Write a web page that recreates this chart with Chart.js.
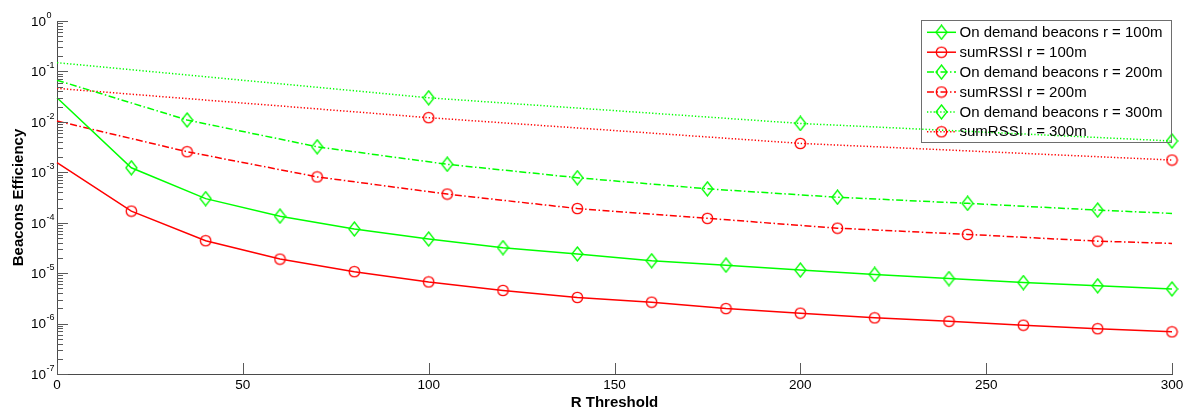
<!DOCTYPE html>
<html>
<head>
<meta charset="utf-8">
<script src="https://cdn.jsdelivr.net/npm/chart.js@4.4.1/dist/chart.umd.min.js"></script>
<style>
  html, body { margin: 0; padding: 0; background: #ffffff; }
  canvas { display: block; }
</style>
</head>
<body>
<canvas id="chart" width="1194" height="411"></canvas>
<script>
// R threshold sample points for each radius
const rThreshold100 = [0, 20, 40, 60, 80, 100, 120, 140, 160, 180, 200, 220, 240, 260, 280, 300];
const rThreshold200 = [0, 35, 70, 105, 140, 175, 210, 245, 280, 300];
const rThreshold300 = [0, 100, 200, 300];

// Beacons efficiency values
const onDemand100 = [3.0e-2, 1.23e-3, 3.0e-4, 1.35e-4, 7.5e-5, 4.75e-5, 3.2e-5, 2.4e-5, 1.76e-5, 1.44e-5, 1.15e-5, 9.4e-6, 7.8e-6, 6.5e-6, 5.6e-6, 4.85e-6];
const sumRssi100  = [1.55e-3, 1.7e-4, 4.4e-5, 1.9e-5, 1.07e-5, 6.7e-6, 4.55e-6, 3.3e-6, 2.66e-6, 1.98e-6, 1.61e-6, 1.3e-6, 1.11e-6, 9.3e-7, 7.9e-7, 6.85e-7];
const onDemand200 = [6.7e-2, 1.09e-2, 3.2e-3, 1.44e-3, 7.8e-4, 4.7e-4, 3.2e-4, 2.42e-4, 1.78e-4, 1.53e-4];
const sumRssi200  = [1.04e-2, 2.56e-3, 8.1e-4, 3.7e-4, 1.91e-4, 1.22e-4, 7.8e-5, 5.87e-5, 4.31e-5, 3.89e-5];
const onDemand300 = [1.49e-1, 3.0e-2, 9.3e-3, 4.17e-3];
const sumRssi300  = [4.62e-2, 1.21e-2, 3.74e-3, 1.75e-3];

// Series names
const seriesNames = [
  'On demand beacons r = 100m',
  'sumRSSI r = 100m',
  'On demand beacons r = 200m',
  'sumRSSI r = 200m',
  'On demand beacons r = 300m',
  'sumRSSI r = 300m'
];

// Axis ticks
const xTickValues = [0, 50, 100, 150, 200, 250, 300];
const yExponents = [-7, -6, -5, -4, -3, -2, -1, 0];

const GREEN = '#00ff00';
const RED = '#ff0000';
const FONT = '"Liberation Sans", Arial, Helvetica, sans-serif';

// Marker glyphs
function makeDiamond() {
  const c = document.createElement('canvas');
  c.width = 13; c.height = 16;
  const g = c.getContext('2d');
  g.strokeStyle = GREEN; g.lineWidth = 1.3;
  g.beginPath();
  g.moveTo(6.5, 1); g.lineTo(12, 8); g.lineTo(6.5, 15); g.lineTo(1, 8); g.closePath();
  g.stroke();
  return c;
}
function makeCircle() {
  const c = document.createElement('canvas');
  c.width = 13; c.height = 13;
  const g = c.getContext('2d');
  g.strokeStyle = RED; g.lineWidth = 1.3;
  g.beginPath();
  g.arc(6.5, 6.5, 5.2, 0, Math.PI * 2);
  g.stroke();
  return c;
}
const diamond = makeDiamond();
const circle = makeCircle();

const SOLID = [];
const DASHDOT = [7, 2.5, 1.5, 2.5];
const DOTTED = [1.3, 2];

function series(label, xs, ys, color, dash, marker, firstMark, lastMark) {
  return {
    label,
    data: xs.map((x, i) => ({ x, y: ys[i] })),
    borderColor: color,
    backgroundColor: color,
    borderWidth: 1.5,
    borderDash: dash,
    pointStyle: marker,
    pointRadius: xs.map((_, i) => (i >= firstMark && i <= lastMark) ? 6 : 0),
    pointHoverRadius: 0,
    tension: 0,
    fill: false,
    clip: false
  };
}

const datasets = [
  series(seriesNames[0], rThreshold100, onDemand100, GREEN, SOLID, diamond, 1, rThreshold100.length - 1),
  series(seriesNames[1], rThreshold100, sumRssi100, RED, SOLID, circle, 1, rThreshold100.length - 1),
  series(seriesNames[2], rThreshold200, onDemand200, GREEN, DASHDOT, diamond, 1, rThreshold200.length - 2),
  series(seriesNames[3], rThreshold200, sumRssi200, RED, DASHDOT, circle, 1, rThreshold200.length - 2),
  series(seriesNames[4], rThreshold300, onDemand300, GREEN, DOTTED, diamond, 1, rThreshold300.length - 1),
  series(seriesNames[5], rThreshold300, sumRssi300, RED, DOTTED, circle, 1, rThreshold300.length - 1)
];

// Inward tick marks and power-of-ten labels in the style of a MATLAB axis
const axisDecor = {
  id: 'axisDecor',
  afterDraw(chart) {
    const ctx = chart.ctx;
    const xs = chart.scales.x, ys = chart.scales.y, a = chart.chartArea;
    ctx.save();
    ctx.strokeStyle = '#5a5a5a';
    ctx.lineWidth = 1;
    const seg = (x1, y1, x2, y2) => { ctx.beginPath(); ctx.moveTo(x1, y1); ctx.lineTo(x2, y2); ctx.stroke(); };
    const left = Math.round(a.left);
    yExponents.forEach((e, i) => {
      const base = Math.pow(10, e);
      const py = Math.round(ys.getPixelForValue(base)) + 0.5;
      seg(left, py, left + 11, py);
      if (i < yExponents.length - 1) {
        for (let m = 2; m <= 9; m++) {
          const p = Math.round(ys.getPixelForValue(m * base)) + 0.5;
          seg(left, p, left + 6, p);
        }
      }
    });
    const bottom = Math.round(a.bottom);
    xTickValues.forEach(v => {
      const px = Math.round(xs.getPixelForValue(v)) + 0.5;
      seg(px, bottom, px, bottom - 11);
    });

    ctx.fillStyle = '#000000';
    yExponents.forEach(e => {
      const py = ys.getPixelForValue(Math.pow(10, e));
      ctx.font = '13.5px ' + FONT;
      ctx.textAlign = 'right';
      ctx.textBaseline = 'alphabetic';
      ctx.fillText('10', 46, py + 4.8);
      ctx.font = '9px ' + FONT;
      ctx.textAlign = 'left';
      ctx.fillText(String(e), 46.5, py - 3.2);
    });
    ctx.restore();
  }
};

// Boxed legend in the upper-right corner of the plot
const boxLegend = {
  id: 'boxLegend',
  afterDraw(chart) {
    const ctx = chart.ctx;
    const box = { left: 921.5, top: 20.5, right: 1171.5, bottom: 142.5 };
    ctx.save();
    ctx.strokeStyle = '#6e6e6e';
    ctx.lineWidth = 1;
    ctx.strokeRect(box.left, box.top, box.right - box.left, box.bottom - box.top);
    chart.data.datasets.forEach((ds, i) => {
      const cy = 32.3 + i * 19.9;
      ctx.strokeStyle = ds.borderColor;
      ctx.lineWidth = ds.borderWidth;
      ctx.setLineDash(ds.borderDash);
      ctx.beginPath();
      ctx.moveTo(927, cy);
      ctx.lineTo(956, cy);
      ctx.stroke();
      ctx.setLineDash([]);
      const img = ds.pointStyle;
      ctx.drawImage(img, 941.5 - img.width / 2, cy - img.height / 2);
      ctx.fillStyle = '#000000';
      ctx.font = '15px ' + FONT;
      ctx.textAlign = 'left';
      ctx.textBaseline = 'middle';
      ctx.fillText(ds.label, 959.5, cy + 0.5);
    });
    ctx.restore();
  }
};

new Chart(document.getElementById('chart'), {
  type: 'line',
  data: { datasets },
  options: {
    responsive: false,
    devicePixelRatio: 1,
    animation: false,
    events: [],
    layout: { padding: { top: 21, right: 22, left: 0, bottom: 0 } },
    plugins: {
      legend: { display: false },
      tooltip: { enabled: false }
    },
    scales: {
      x: {
        type: 'linear',
        min: 0,
        max: 300,
        grid: { display: false },
        border: { display: true, color: '#4a4a4a', width: 1 },
        ticks: {
          stepSize: 50,
          padding: -5,
          color: '#000000',
          font: { family: FONT, size: 13.5 },
          maxRotation: 0,
          callback: (v) => xTickValues.includes(v) ? String(v) : ''
        },
        title: {
          display: true,
          text: 'R Threshold',
          color: '#000000',
          font: { family: FONT, size: 15, weight: 'bold' },
          padding: { top: 0, bottom: -1 }
        },
        afterFit: (s) => { s.height = 37; }
      },
      y: {
        type: 'logarithmic',
        min: 1e-7,
        max: 1,
        grid: { display: false },
        border: { display: true, color: '#4a4a4a', width: 1 },
        ticks: { display: false },
        title: {
          display: true,
          text: 'Beacons Efficiency',
          color: '#000000',
          font: { family: FONT, size: 15, weight: 'bold' },
          padding: { top: 10, bottom: 0 }
        },
        afterFit: (s) => { s.width = 57; }
      }
    }
  },
  plugins: [axisDecor, boxLegend]
});
</script>
</body>
</html>
